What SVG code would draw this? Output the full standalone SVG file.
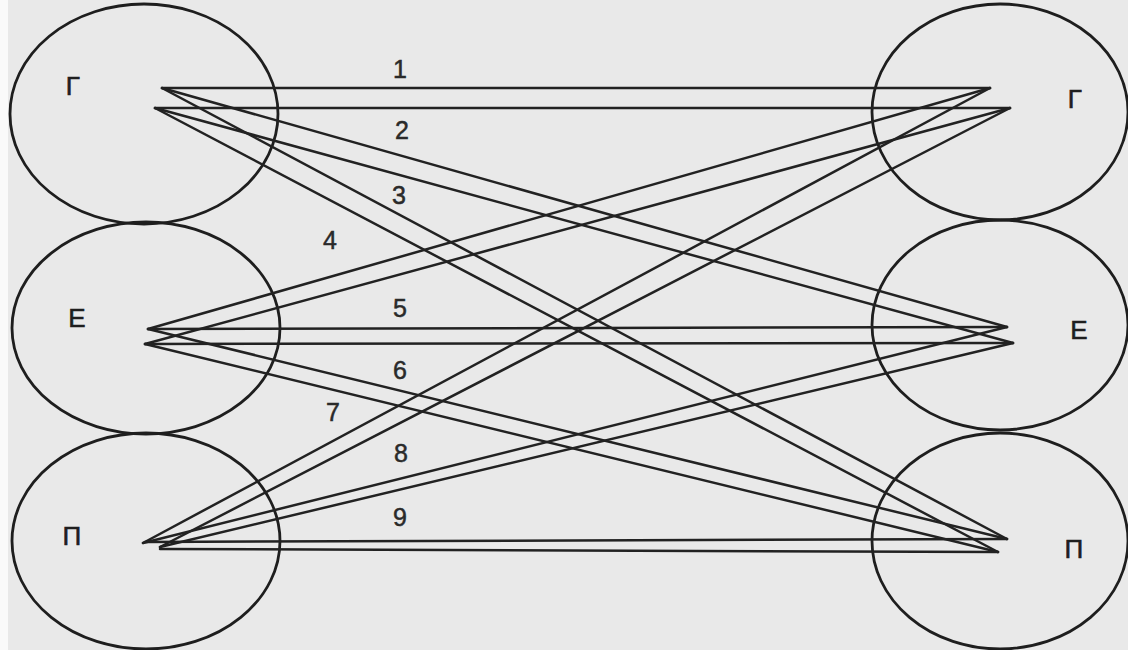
<svg xmlns="http://www.w3.org/2000/svg" width="1128" height="650" viewBox="0 0 1128 650">
<style>
.node{fill:none;stroke:#1e1e1e;stroke-width:2.8}
.lbl{font-family:"Liberation Sans",Arial,sans-serif;font-size:26px;fill:#1e1e1e;stroke:#1e1e1e;stroke-width:0.6;text-anchor:middle}
.num{font-family:"Liberation Sans",Arial,sans-serif;font-size:25px;fill:#2a2a2a;stroke:#2a2a2a;stroke-width:0.5;text-anchor:middle}
.c line{stroke:#222;stroke-width:2.5;stroke-linecap:round}
</style>
<rect width="1128" height="650" fill="#e9e9e9"/>
<rect width="8" height="650" fill="#fafafa"/>
<g id="left-G"><ellipse class="node" cx="144" cy="114" rx="134" ry="110"/><text class="lbl" x="73" y="95">Γ</text></g>
<g id="left-E"><ellipse class="node" cx="146" cy="328" rx="134" ry="106"/><text class="lbl" x="77" y="327">Ε</text></g>
<g id="left-P"><ellipse class="node" cx="146" cy="541" rx="134" ry="108"/><text class="lbl" x="72" y="545">Π</text></g>
<g id="right-G"><ellipse class="node" cx="1000" cy="112" rx="128" ry="108"/><text class="lbl" x="1075" y="108">Γ</text></g>
<g id="right-E"><ellipse class="node" cx="1000" cy="325" rx="128" ry="105"/><text class="lbl" x="1079" y="339">Ε</text></g>
<g id="right-P"><ellipse class="node" cx="1000" cy="541" rx="128" ry="108"/><text class="lbl" x="1074" y="558">Π</text></g>
<g id="connectors" class="c">
<line x1="162" y1="88" x2="990" y2="88"/><line x1="155" y1="108" x2="1010" y2="108"/>
<line x1="162" y1="88" x2="1007" y2="327"/><line x1="155" y1="108" x2="1013" y2="343"/>
<line x1="162" y1="88" x2="1007" y2="539"/><line x1="155" y1="108" x2="998" y2="552"/>
<line x1="148" y1="329" x2="990" y2="88"/><line x1="145" y1="344" x2="1010" y2="108"/>
<line x1="148" y1="329" x2="1007" y2="327"/><line x1="145" y1="344" x2="1013" y2="343"/>
<line x1="148" y1="329" x2="1007" y2="539"/><line x1="145" y1="344" x2="998" y2="552"/>
<line x1="143" y1="543" x2="990" y2="88"/><line x1="160" y1="547" x2="1010" y2="108"/>
<line x1="143" y1="543" x2="1007" y2="327"/><line x1="160" y1="547" x2="1013" y2="343"/>
<line x1="145" y1="542" x2="1007" y2="539"/><line x1="160" y1="549" x2="998" y2="552"/>
</g>
<g id="labels">
<text class="num" x="400" y="78">1</text>
<text class="num" x="402" y="139">2</text>
<text class="num" x="399" y="204">3</text>
<text class="num" x="330" y="249">4</text>
<text class="num" x="400" y="317">5</text>
<text class="num" x="400" y="379">6</text>
<text class="num" x="333" y="421">7</text>
<text class="num" x="401" y="462">8</text>
<text class="num" x="400" y="526">9</text>
</g>
</svg>
